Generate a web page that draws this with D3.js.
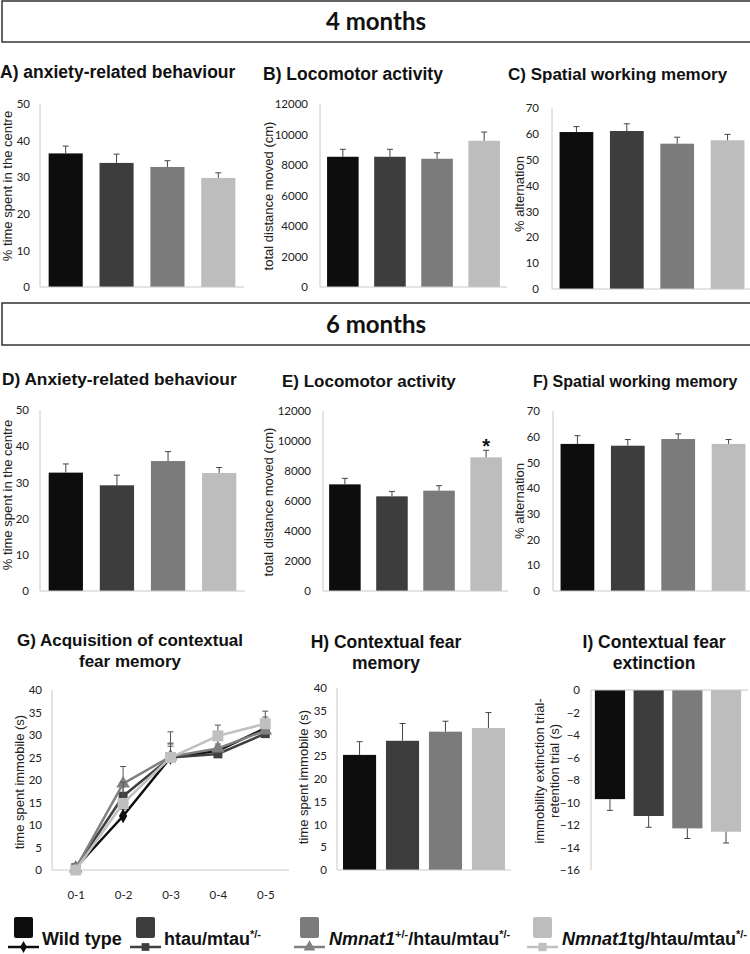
<!DOCTYPE html>
<html><head><meta charset="utf-8">
<script src="https://cdn.jsdelivr.net/npm/d3@7"></script>
<style>
body{margin:0;background:#fff;}
svg{display:block;}
</style></head>
<body><svg id="c" width="750" height="954"></svg>
<script>
// ---------- DATA ----------
const genotypes = ["Wild type", "htau/mtau*/-", "Nmnat1+/-/htau/mtau*/-", "Nmnat1tg/htau/mtau*/-"];
const headers = ["4 months", "6 months"];

// 4 months
const anxiety4 = [36.5, 33.9, 32.8, 29.8];
const anxiety4Sem = [2.0, 2.4, 1.7, 1.4];
const loco4 = [8540, 8540, 8410, 9590];
const loco4Sem = [490, 490, 390, 570];
const spatial4 = [60.7, 61.1, 56.2, 57.5];
const spatial4Sem = [2.1, 2.8, 2.5, 2.3];

// 6 months
const anxiety6 = [32.7, 29.2, 35.9, 32.6];
const anxiety6Sem = [2.4, 2.8, 2.6, 1.5];
const loco6 = [7110, 6310, 6690, 8910];
const loco6Sem = [400, 330, 330, 470];
const spatial6 = [57.2, 56.5, 59.1, 57.2];
const spatial6Sem = [3.2, 2.4, 2.0, 1.7];

// fear conditioning
const trials = ["0-1", "0-2", "0-3", "0-4", "0-5"];
const acqWT = [0.5, 12.0, 25.0, 26.5, 31.5];
const acqWTSem = [0.5, 1.5, 3.0, 1.5, 2.0];
const acqHtau = [0.5, 16.4, 25.0, 25.8, 30.3];
const acqHtauSem = [0.5, 2.1, 2.5, 1.7, 1.7];
const acqNmHet = [0.3, 19.2, 25.2, 27.0, 31.0];
const acqNmHetSem = [0.5, 3.8, 3.0, 2.0, 3.0];
const acqNmTg = [0.0, 14.8, 25.0, 29.8, 32.5];
const acqNmTgSem = [0.5, 4.7, 5.7, 2.4, 2.8];

const fearMem = [25.3, 28.4, 30.4, 31.2];
const fearMemSem = [2.9, 3.8, 2.3, 3.4];
const extinction = [-9.7, -11.2, -12.3, -12.6];
const extinctionSem = [1.0, 1.0, 0.9, 1.0];

const ticks50 = [0, 10, 20, 30, 40, 50];
const ticks12000 = [0, 2000, 4000, 6000, 8000, 10000, 12000];
const ticks70 = [0, 10, 20, 30, 40, 50, 60, 70];
const ticks40 = [0, 5, 10, 15, 20, 25, 30, 35, 40];
const ticksNeg16 = [0, -2, -4, -6, -8, -10, -12, -14, -16];

// ---------- STYLE ----------
const barColors = ["#0d0d0d", "#3d3d3d", "#7b7b7b", "#bdbdbd"];
const lineColors = ["#0d0d0d", "#404040", "#808080", "#c0c0c0"];
const axisColor = "#c8c8c8";
const titleFont = "'Liberation Sans', Arial, sans-serif";
const tickFont = "Lato, 'Open Sans', sans-serif";

const svg = d3.select("#c");

// ---------- HEADERS ----------
function header(text, y0, y1) {
  svg.append("rect").attr("x", 2).attr("y", y0).attr("width", 760).attr("height", y1 - y0)
    .attr("fill", "#fff").attr("stroke", "#333").attr("stroke-width", 1.5);
  svg.append("text").attr("x", 376).attr("y", (y0 + y1) / 2).attr("dy", "0.36em")
    .attr("text-anchor", "middle").attr("font-family", "Lato, sans-serif")
    .attr("font-weight", "bold").attr("font-size", 24).attr("fill", "#111").text(text);
}
header(headers[0], 1, 42);
header(headers[1], 303, 345);

function title(lines, x, y, anchor, fs) {
  const t = svg.append("text").attr("font-family", titleFont).attr("font-weight", "bold")
    .attr("font-size", fs || 17.5).attr("fill", "#111").attr("text-anchor", anchor);
  lines.forEach((l, i) => t.append("tspan").attr("x", x).attr("y", y + i * 20.5).text(l));
}

function yTitle(lines, x, cy) {
  const g = svg.append("g").attr("transform", `translate(${x},${cy}) rotate(-90)`);
  lines.forEach((l, i) => g.append("text").attr("x", 0).attr("y", i * 15)
    .attr("text-anchor", "middle").attr("dy", "0.35em")
    .attr("font-family", titleFont).attr("font-size", 13).attr("fill", "#222").text(l));
}

function yAxis(y, x0, ticks, pad) {
  const g = svg.append("g").attr("transform", `translate(${x0},0)`)
    .call(d3.axisLeft(y).tickValues(ticks).tickSize(0).tickPadding(pad).tickFormat(d3.format("d")));
  g.select(".domain").remove();
  g.selectAll("text").attr("font-family", tickFont).attr("font-size", 11.5).attr("fill", "#222");
  const r = y.range();
  svg.append("line").attr("x1", x0).attr("x2", x0).attr("y1", r[0]).attr("y2", r[1])
    .attr("stroke", axisColor).attr("stroke-width", 1);
}

function barPanel(cfg) {
  const {vals, sems, x0, x1, yA, yB, domain, ticks, pIn, pOut} = cfg;
  const x = d3.scaleBand().domain(genotypes).range([x0, x1]).paddingInner(pIn).paddingOuter(pOut);
  const y = d3.scaleLinear().domain(domain).range([yA, yB]);
  yAxis(y, x0, ticks, cfg.pad || 11);
  const g = svg.append("g");
  genotypes.forEach((k, i) => {
    const v = vals[i], s = sems[i];
    const top = Math.min(y(0), y(v)), h = Math.abs(y(v) - y(0));
    g.append("rect").attr("x", x(k)).attr("y", top).attr("width", x.bandwidth()).attr("height", h)
      .attr("fill", barColors[i]);
    const cx = x(k) + x.bandwidth() / 2;
    const e = v >= 0 ? v + s : v - s;
    g.append("line").attr("x1", cx).attr("x2", cx).attr("y1", y(v)).attr("y2", y(e))
      .attr("stroke", "#444").attr("stroke-width", 1);
    g.append("line").attr("x1", cx - 3).attr("x2", cx + 3).attr("y1", y(e)).attr("y2", y(e))
      .attr("stroke", "#444").attr("stroke-width", 1);
    if (cfg.star && cfg.star[i]) {
      svg.append("text").attr("x", cx).attr("y", y(e) + 3).attr("text-anchor", "middle")
        .attr("font-family", titleFont).attr("font-weight", "bold").attr("font-size", 20)
        .attr("fill", "#111").text(cfg.star[i]);
    }
  });
  svg.append("line").attr("x1", x0).attr("x2", x1 + (cfg.ext || 0)).attr("y1", y(0)).attr("y2", y(0))
    .attr("stroke", axisColor).attr("stroke-width", 1);
}

// ---------- 4 MONTHS ----------
title(["A) anxiety-related behaviour"], 0, 78, "start", 17.5);
barPanel({vals: anxiety4, sems: anxiety4Sem, x0: 40, x1: 244, yA: 287, yB: 104, domain: [0, 50], ticks: ticks50, pIn: 0.33, pOut: 0.17, pad: 10});
yTitle(["% time spent in the centre"], 7, 186);

title(["B) Locomotor activity"], 263, 80, "start", 17.5);
barPanel({vals: loco4, sems: loco4Sem, x0: 320, x1: 507, yA: 287, yB: 104, domain: [0, 12000], ticks: ticks12000, pIn: 0.33, pOut: 0.15, pad: 12});
yTitle(["total distance moved (cm)"], 268, 196);

title(["C) Spatial working memory"], 508, 80, "start", 17);
barPanel({vals: spatial4, sems: spatial4Sem, x0: 552, x1: 752, yA: 289, yB: 108, domain: [0, 70], ticks: ticks70, pIn: 0.33, pOut: 0.15, pad: 13});
yTitle(["% alternation"], 519, 194);

// ---------- 6 MONTHS ----------
title(["D) Anxiety-related behaviour"], 2, 385, "start", 17.3);
barPanel({vals: anxiety6, sems: anxiety6Sem, x0: 40, x1: 245, yA: 591, yB: 410, domain: [0, 50], ticks: ticks50, pIn: 0.33, pOut: 0.17, pad: 11});
yTitle(["% time spent in the centre"], 7, 495);

title(["E) Locomotor activity"], 282, 387, "start", 17);
barPanel({vals: loco6, sems: loco6Sem, x0: 323, x1: 508, yA: 591, yB: 411, domain: [0, 12000], ticks: ticks12000, pIn: 0.33, pOut: 0.13, pad: 12, star: ["", "", "", "*"]});
yTitle(["total distance moved (cm)"], 268, 502);

title(["F) Spatial working memory"], 533, 387, "start", 16);
barPanel({vals: spatial6, sems: spatial6Sem, x0: 553, x1: 753, yA: 591, yB: 411, domain: [0, 70], ticks: ticks70, pIn: 0.33, pOut: 0.15, pad: 13});
yTitle(["% alternation"], 519, 501);

// ---------- G: line chart ----------
title(["G) Acquisition of contextual", "fear memory"], 130, 646, "middle", 17);
(function () {
  const x0 = 52, x1 = 289;
  const x = d3.scalePoint().domain(trials).range([x0, x1]).padding(0.5);
  const y = d3.scaleLinear().domain([0, 40]).range([870, 690]);
  yAxis(y, x0, ticks40, 10);
  svg.append("line").attr("x1", x0).attr("x2", x1).attr("y1", y(0)).attr("y2", y(0))
    .attr("stroke", axisColor);
  const xa = svg.append("g").attr("transform", `translate(0,${y(0)})`)
    .call(d3.axisBottom(x).tickSize(0).tickPadding(21));
  xa.select(".domain").remove();
  xa.selectAll("text").attr("font-family", tickFont).attr("font-size", 11.5).attr("fill", "#222");

  const series = [
    {v: acqWT, s: acqWTSem, shape: d3.symbolDiamond, size: 60},
    {v: acqHtau, s: acqHtauSem, shape: d3.symbolSquare, size: 80},
    {v: acqNmHet, s: acqNmHetSem, shape: d3.symbolTriangle, size: 80},
    {v: acqNmTg, s: acqNmTgSem, shape: d3.symbolSquare, size: 120}
  ];
  const line = d3.line().x((d, i) => x(trials[i])).y(d => y(d));
  series.forEach((se, k) => {
    const g = svg.append("g");
    se.v.forEach((d, i) => {
      const cx = x(trials[i]);
      g.append("line").attr("x1", cx).attr("x2", cx).attr("y1", y(d)).attr("y2", y(d + se.s[i]))
        .attr("stroke", "#555").attr("stroke-width", 1);
      g.append("line").attr("x1", cx - 3).attr("x2", cx + 3).attr("y1", y(d + se.s[i])).attr("y2", y(d + se.s[i]))
        .attr("stroke", "#555").attr("stroke-width", 1);
    });
    g.append("path").attr("d", line(se.v)).attr("fill", "none").attr("stroke", lineColors[k]).attr("stroke-width", 2.5);
    se.v.forEach((d, i) => {
      g.append("path").attr("d", d3.symbol().type(se.shape).size(se.size)())
        .attr("transform", `translate(${x(trials[i])},${y(d)})`).attr("fill", lineColors[k]);
    });
  });
  yTitle(["time spent immobile (s)"], 19, 782);
})();

// ---------- H ----------
title(["H) Contextual fear", "memory"], 386, 648, "middle", 17.5);
barPanel({vals: fearMem, sems: fearMemSem, x0: 337, x1: 511, yA: 870, yB: 688, domain: [0, 40], ticks: ticks40, pIn: 0.23, pOut: 0.14, pad: 10});
yTitle(["time spent immobile (s)"], 303, 777);

// ---------- I ----------
title(["I) Contextual fear", "extinction"], 654, 648, "middle", 17.5);
barPanel({vals: extinction, sems: extinctionSem, x0: 591, x1: 745, yA: 690, yB: 870, domain: [0, -16], ticks: ticksNeg16, pIn: 0.22, pOut: 0.1, pad: 11, ext: 3});
yTitle(["immobility extinction trial-", "retention trial (s)"], 539, 771);

// ---------- LEGEND ----------
(function () {
  const items = [
    {sq: 14, tx: 42, shape: d3.symbolDiamond, size: 40},
    {sq: 136, tx: 164, shape: d3.symbolSquare, size: 60},
    {sq: 300, tx: 329, shape: d3.symbolTriangle, size: 60},
    {sq: 533, tx: 562, shape: d3.symbolSquare, size: 70}
  ];
  const lf = "'Liberation Sans Narrow', 'Liberation Sans', Arial, sans-serif";
  const fs = 18, ss = 11;
  items.forEach((it, i) => {
    svg.append("rect").attr("x", it.sq).attr("y", 917).attr("width", 19).attr("height", 21)
      .attr("rx", 2).attr("fill", barColors[i]);
    svg.append("line").attr("x1", it.sq - 6).attr("x2", it.sq + 25).attr("y1", 947).attr("y2", 947)
      .attr("stroke", lineColors[i]).attr("stroke-width", 2.5);
    svg.append("path").attr("d", d3.symbol().type(it.shape).size(it.size)())
      .attr("transform", `translate(${it.sq + 9.5},947)`).attr("fill", lineColors[i]);
    const t = svg.append("text").attr("x", it.tx).attr("y", 945).attr("font-family", lf)
      .attr("font-weight", "bold").attr("font-size", fs).attr("fill", "#111");
    const label = genotypes[i];
    if (i === 0) {
      t.append("tspan").text(label);
    } else if (i === 1) {
      t.append("tspan").text("htau/mtau");
      t.append("tspan").attr("font-size", ss).attr("dy", -7).text("*/-");
    } else if (i === 2) {
      t.append("tspan").attr("font-style", "italic").text("Nmnat1");
      t.append("tspan").attr("font-size", ss).attr("dy", -7).text("+/-");
      t.append("tspan").attr("dy", 7).text("/htau/mtau");
      t.append("tspan").attr("font-size", ss).attr("dy", -7).text("*/-");
    } else {
      t.append("tspan").attr("font-style", "italic").text("Nmnat1");
      t.append("tspan").text("tg/htau/mtau");
      t.append("tspan").attr("font-size", ss).attr("dy", -7).text("*/-");
    }
  });
})();
</script>
</body></html>
